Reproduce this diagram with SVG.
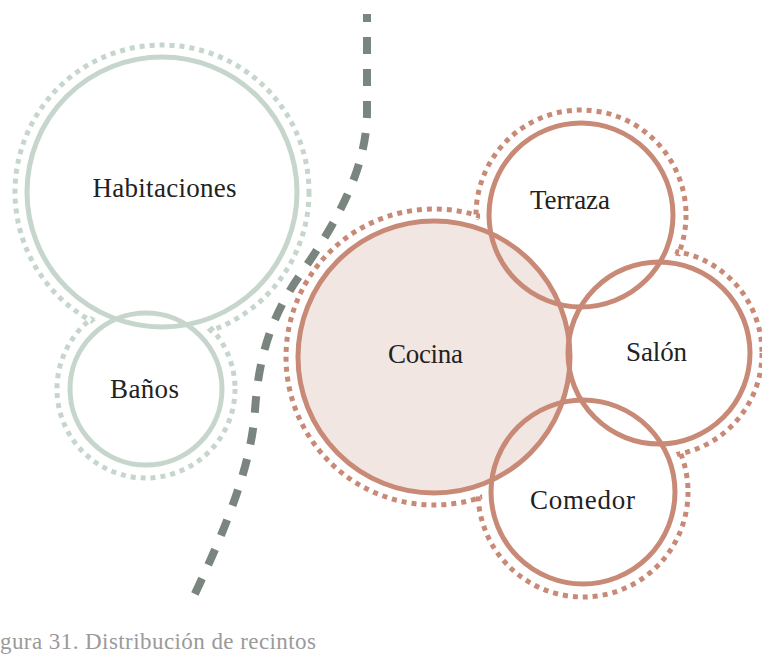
<svg xmlns="http://www.w3.org/2000/svg" width="762" height="654" viewBox="0 0 762 654">
<style>
.dotg{fill:none;stroke:#c6d6cd;stroke-width:5;stroke-dasharray:5 5}
.dotr{fill:none;stroke:#c88a77;stroke-width:5;stroke-dasharray:5 5}
.cover{fill:#fff;stroke:none}
.solg{fill:none;stroke:#c6d6cd;stroke-width:5}
.solr{fill:none;stroke:#c88a77;stroke-width:5}
.lbl{font-family:"Liberation Serif","DejaVu Serif",serif;font-size:27px;fill:#222;text-anchor:middle}
</style>
<rect width="762" height="654" fill="#fff"/>
<g id="outlines">
<circle class="dotg" cx="162" cy="192" r="147"/>
<circle class="dotg" cx="146" cy="389" r="89"/>
<circle class="dotr" cx="434" cy="357" r="148"/>
<circle class="dotr" cx="581" cy="215" r="105"/>
<circle class="dotr" cx="659" cy="353" r="103"/>
<circle class="dotr" cx="583" cy="492" r="105"/>
<circle class="cover" cx="162" cy="192" r="143"/>
<circle class="cover" cx="146" cy="389" r="85"/>
<circle class="cover" cx="434" cy="357" r="144"/>
<circle class="cover" cx="581" cy="215" r="101"/>
<circle class="cover" cx="659" cy="353" r="99"/>
<circle class="cover" cx="583" cy="492" r="101"/>
</g>
<g id="cocina"><circle class="solr" cx="434" cy="357" r="136" style="fill:#f2e6e2"/><text class="lbl" x="425.5" y="363" textLength="75">Cocina</text></g>
<g id="terraza"><circle class="solr" cx="581" cy="215" r="92"/><text class="lbl" x="570" y="209" textLength="80">Terraza</text></g>
<g id="salon"><circle class="solr" cx="659" cy="353" r="91"/><text class="lbl" x="656.5" y="361" textLength="61">Salón</text></g>
<g id="comedor"><circle class="solr" cx="583" cy="492" r="92"/><text class="lbl" x="582.5" y="509" textLength="105">Comedor</text></g>
<g id="habitaciones"><circle class="solg" cx="162" cy="192" r="135"/><text class="lbl" x="164.5" y="197" textLength="144">Habitaciones</text></g>
<g id="banos"><circle class="solg" cx="146" cy="389" r="76"/><text class="lbl" x="144.5" y="398" textLength="69">Baños</text></g>
<g id="connectors">
<path d="M367,14 L367,112 C367,170 335,225 300,275 C265,325 258,370 255,410 C252,460 230,520 193,598" fill="none" stroke="#7b857f" stroke-width="8" stroke-dasharray="17 15" stroke-dashoffset="9"/>
</g>
<text x="0" y="649" font-family="Liberation Serif,DejaVu Serif,serif" font-size="23" fill="#9a9a9a" textLength="316">gura 31. Distribución de recintos</text>
</svg>
